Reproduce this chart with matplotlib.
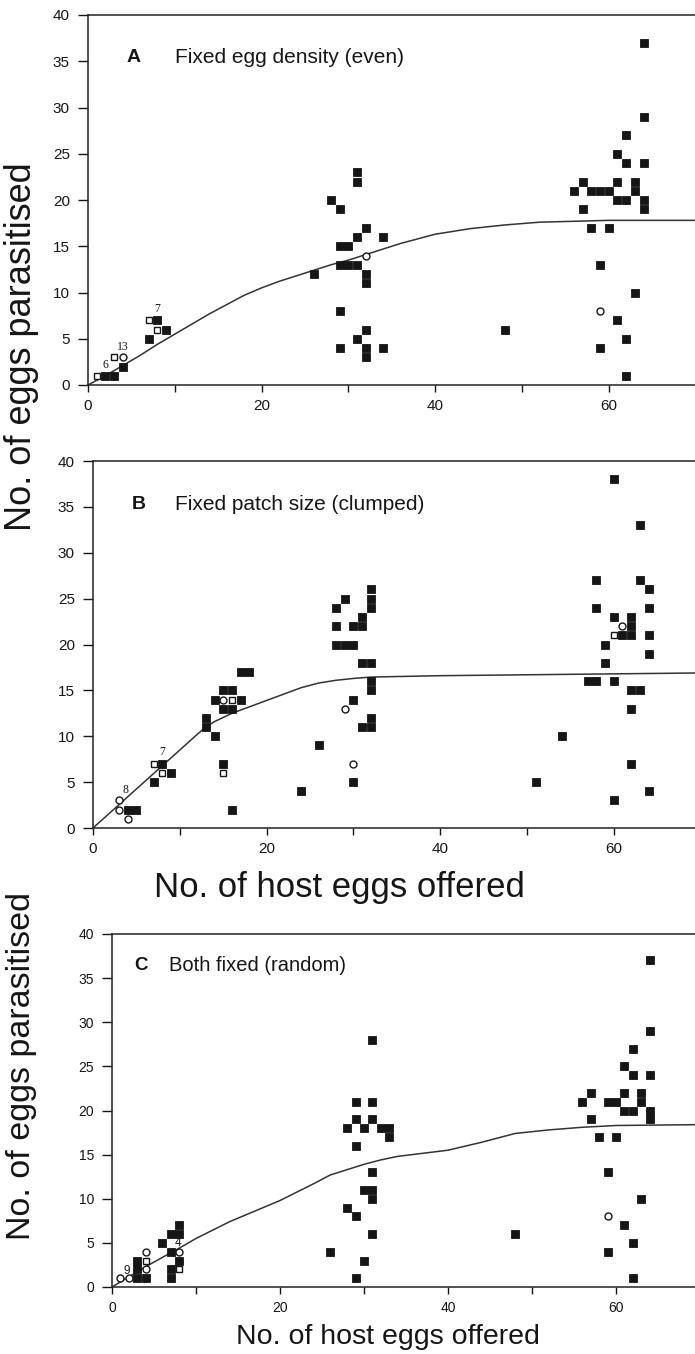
import matplotlib
matplotlib.use("Agg")
import matplotlib.pyplot as plt

plt.rcParams['font.family'] = ['Liberation Sans', 'DejaVu Sans']

# ---------------- Panel A data ----------------
a_fill_x = [64, 64, 62, 61, 62, 64, 57, 61, 63, 56, 58, 59, 60, 63, 61, 62, 64, 57, 64, 58, 60, 59, 63, 61, 62, 59, 62, 48,
            31, 31, 28, 29, 32, 31, 34, 29, 30, 29, 30, 31, 26, 32, 32, 29, 31, 32, 29, 32, 34, 32,
            8, 9, 7, 4, 2, 3]
a_fill_y = [37, 29, 27, 25, 24, 24, 22, 22, 22, 21, 21, 21, 21, 21, 20, 20, 20, 19, 19, 17, 17, 13, 10, 7, 5, 4, 1, 6,
            23, 22, 20, 19, 17, 16, 16, 15, 15, 13, 13, 13, 12, 12, 11, 8, 5, 6, 4, 4, 4, 3,
            7, 6, 5, 2, 1, 1]
a_osq_x = [1, 3, 7, 8]
a_osq_y = [1, 3, 7, 6]
a_circ_x = [4, 32, 59]
a_circ_y = [3, 14, 8]
a_curve_x = [0, 2, 4, 6, 8, 10, 12, 14, 16, 18, 20, 22, 24, 26, 28, 30, 32, 34, 36, 38, 40, 44, 48, 52, 56, 60, 70]
a_curve_y = [0, 1.0, 2.1, 3.2, 4.4, 5.5, 6.6, 7.7, 8.7, 9.7, 10.5, 11.2, 11.8, 12.4, 13.0, 13.5, 14.1, 14.7, 15.3,
             15.8, 16.3, 16.9, 17.3, 17.6, 17.7, 17.8, 17.8]
a_notes = ["6", "13", "7"]
a_notes_x = [2.0, 4.0, 8.0]
a_notes_y = [2.2, 4.1, 8.2]

# ---------------- Panel B data ----------------
b_fill_x = [60, 63, 58, 63, 64, 58, 64, 60, 62, 62, 61, 62, 64, 59, 64, 59, 57, 58, 60, 62, 63, 62, 62, 64, 60, 54, 51,
            32, 32, 32, 29, 28, 31, 28, 30, 31, 28, 29, 30, 31, 32, 32, 32, 30, 32, 31, 32, 30, 26, 24,
            17, 18, 15, 16, 14, 17, 15, 16, 13, 13, 14, 15, 16,
            8, 9, 7, 4, 5]
b_fill_y = [38, 33, 27, 27, 26, 24, 24, 23, 23, 22, 21, 21, 21, 20, 19, 18, 16, 16, 16, 15, 15, 13, 7, 4, 3, 10, 5,
            26, 25, 24, 25, 24, 23, 22, 22, 22, 20, 20, 20, 18, 18, 16, 15, 14, 12, 11, 11, 5, 9, 4,
            17, 17, 15, 15, 14, 14, 13, 13, 12, 11, 10, 7, 2,
            7, 6, 5, 2, 2]
b_osq_x = [7, 8, 15, 16, 60]
b_osq_y = [7, 6, 6, 14, 21]
b_circ_x = [3, 3, 4, 15, 29, 30, 61]
b_circ_y = [3, 2, 1, 14, 13, 7, 22]
b_curve_x = [0, 2, 4, 6, 8, 10, 12, 13, 14, 16, 18, 20, 22, 24, 26, 28, 30, 32, 40, 50, 60, 70]
b_curve_y = [0, 1.7, 3.4, 5.1, 6.8, 8.5, 10.2, 11.0, 11.6, 12.5, 13.2, 13.9, 14.6, 15.3, 15.8, 16.1, 16.3, 16.45,
             16.6, 16.7, 16.8, 16.9]
b_notes = ["8", "7"]
b_notes_x = [3.8, 7.95]
b_notes_y = [4.1, 8.3]

# ---------------- Panel C data ----------------
c_fill_x = [64, 64, 62, 61, 62, 64, 57, 61, 63, 56, 59, 60, 63, 61, 62, 64, 57, 64, 58, 60, 59, 63, 61, 62, 59, 62, 48,
            31, 29, 31, 29, 31, 28, 30, 32, 33, 33, 29, 31, 30, 31, 31, 28, 29, 31, 26, 30, 29,
            6, 7, 8, 8, 7, 8, 7, 7, 3, 3, 3, 4]
c_fill_y = [37, 29, 27, 25, 24, 24, 22, 22, 22, 21, 21, 21, 21, 20, 20, 20, 19, 19, 17, 17, 13, 10, 7, 5, 4, 1, 6,
            28, 21, 21, 19, 19, 18, 18, 18, 18, 17, 16, 13, 11, 11, 10, 9, 8, 6, 4, 3, 1,
            5, 6, 6, 7, 4, 3, 2, 1, 3, 2, 1, 1]
c_osq_x = [4, 8]
c_osq_y = [3, 2]
c_circ_x = [1, 2, 4, 4, 8, 59]
c_circ_y = [1, 1, 4, 2, 4, 8]
c_curve_x = [0, 4, 8, 10, 14, 20, 24, 26, 28, 30, 32, 34, 40, 44, 48, 52, 56, 60, 70]
c_curve_y = [0, 2.3, 4.4, 5.5, 7.4, 9.8, 11.7, 12.7, 13.3, 13.9, 14.4, 14.8, 15.5, 16.4, 17.4, 17.8, 18.1, 18.3, 18.4]
c_notes = ["9", "4"]
c_notes_x = [1.7, 7.9]
c_notes_y = [1.85, 5.0]

x_ticks = [0, 10, 20, 30, 40, 50, 60, 70]
x_tick_labels = ["0", "", "20", "", "40", "", "60", ""]
y_ticks = [0, 5, 10, 15, 20, 25, 30, 35, 40]

W, H = 695, 1354
fig = plt.figure(figsize=(W / 100, H / 100), dpi=100)
fig.patch.set_facecolor('white')

INK = '#161616'


def make_ax(left, top, bottom, xscale):
    width = 70 * xscale
    return fig.add_axes([left / W, 1 - bottom / H, width / W, (bottom - top) / H])


def draw_panel(ax, fx, fy, sx, sy, cx, cy, kx, ky, letter, title, lx, tx, ty,
               notes, nx, ny, note_family, tick_fs, title_fs):
    ax.plot(kx, ky, color='#333333', lw=1.1, zorder=2)
    ax.plot(fx, fy, linestyle='none', marker='s', ms=5.2, mfc=INK, mec=INK, mew=0.6, zorder=3)
    ax.plot(sx, sy, linestyle='none', marker='s', ms=5.0, mfc='white', mec=INK, mew=1.0, zorder=4)
    ax.plot(cx, cy, linestyle='none', marker='o', ms=5.0, mfc='white', mec=INK, mew=1.0, zorder=4)
    for t, x, y in zip(notes, nx, ny):
        ax.text(x, y, t, fontsize=8.5, family=note_family, color=INK, ha='center', va='center', zorder=5)
    ax.text(lx, ty, letter, fontsize=title_fs - 1, fontweight='bold', color=INK, ha='center', va='center')
    ax.text(tx, ty, title, fontsize=title_fs, color=INK, ha='left', va='center')
    ax.set_xlim(0, 70)
    ax.set_ylim(0, 40)
    ax.set_xticks(x_ticks)
    ax.set_xticklabels(x_tick_labels)
    ax.set_yticks(y_ticks)
    ax.tick_params(axis='y', direction='out', length=7, width=1, labelsize=tick_fs, pad=6, colors=INK)
    ax.tick_params(axis='x', direction='out', length=5, width=1, labelsize=tick_fs, pad=5, colors=INK)
    for s in ['left', 'bottom', 'top']:
        ax.spines[s].set_linewidth(1.1)
        ax.spines[s].set_color('#222222')
    ax.spines['right'].set_visible(False)


axA = make_ax(88, 15, 385, 8.68)
draw_panel(axA, a_fill_x, a_fill_y, a_osq_x, a_osq_y, a_circ_x, a_circ_y, a_curve_x, a_curve_y,
           "A", "Fixed egg density (even)", 5.2, 10.0, 35.4, a_notes, a_notes_x, a_notes_y,
           ['Liberation Serif', 'DejaVu Serif'], 11, 15)

axB = make_ax(93, 461, 828, 8.68)
draw_panel(axB, b_fill_x, b_fill_y, b_osq_x, b_osq_y, b_circ_x, b_circ_y, b_curve_x, b_curve_y,
           "B", "Fixed patch size (clumped)", 5.3, 9.4, 35.25, b_notes, b_notes_x, b_notes_y,
           ['Liberation Serif', 'DejaVu Serif'], 11, 15)

axC = make_ax(112, 934, 1287, 8.4)
draw_panel(axC, c_fill_x, c_fill_y, c_osq_x, c_osq_y, c_circ_x, c_circ_y, c_curve_x, c_curve_y,
           "C", "Both fixed (random)", 3.4, 6.8, 36.4, c_notes, c_notes_x, c_notes_y,
           ['Liberation Sans', 'DejaVu Sans'], 10, 14.5)

fig.text(22 / W, 1 - 347 / H, "No. of eggs parasitised", rotation=90, fontsize=26, color=INK,
         ha='center', va='center')
fig.text(339 / W, 1 - 888 / H, "No. of host eggs offered", fontsize=25, color=INK,
         ha='center', va='center')
fig.text(22 / W, 1 - 1066 / H, "No. of eggs parasitised", rotation=90, fontsize=24.5, color=INK,
         ha='center', va='center')
fig.text(388 / W, 1 - 1337 / H, "No. of host eggs offered", fontsize=20.5, color=INK,
         ha='center', va='center')

fig.savefig("out.png", dpi=100, facecolor='white')
